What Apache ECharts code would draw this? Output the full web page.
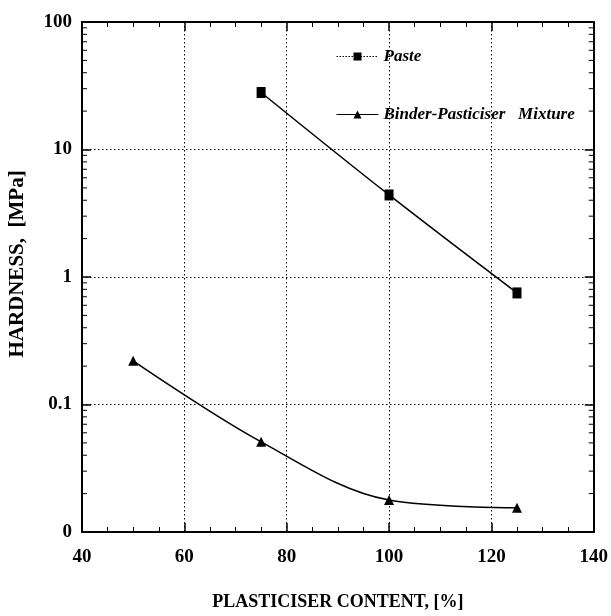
<!DOCTYPE html>
<html>
<head>
<meta charset="utf-8">
<script src="https://cdn.jsdelivr.net/npm/echarts@6/dist/echarts.min.js"></script>
<style>html,body{margin:0;padding:0;background:#fff;}#c{width:611px;height:616px;}</style>
</head>
<body>
<div id="c"></div>
<script>
// ---- data ----
var pasteX = [75, 100, 125];
var pasteY = [28, 4.4, 0.75];
var binderX = [50, 75, 100, 125];
var binderY = [0.22, 0.051, 0.0178, 0.0155];
var seriesNames = ['Paste', 'Binder-Pasticiser   Mixture'];
var xTicks = [40, 60, 80, 100, 120, 140];
var yTickValues = [0.01, 0.1, 1, 10, 100];
var yTickLabels = ['0', '0.1', '1', '10', '100'];
var yMinorTicks = [];
[0.01, 0.1, 1, 10].forEach(function (d) {
  for (var k = 2; k <= 9; k++) yMinorTicks.push(+(d * k).toPrecision(3));
});

var serif = '"Liberation Serif", "Times New Roman", serif';
var black = '#000';

function pairs(xs, ys) { return xs.map(function (x, i) { return [x, ys[i]]; }); }

var chart = echarts.init(document.getElementById('c'), null, {renderer: 'canvas'});
var xCommon = {
  type: 'value', min: xTicks[0], max: xTicks[xTicks.length - 1], interval: 20,
  axisLine: {show: true, onZero: false, lineStyle: {color: black, width: 2}},
  axisTick: {show: true, inside: true, length: 9, lineStyle: {color: black, width: 1.5}},
  minorTick: {show: true, splitNumber: 4, length: 5, lineStyle: {color: black, width: 1}}
};
var yCommon = {
  type: 'log', logBase: 10, min: yTickValues[0], max: yTickValues[yTickValues.length - 1],
  axisLine: {show: true, onZero: false, lineStyle: {color: black, width: 2}},
  axisTick: {show: true, inside: true, length: 9, lineStyle: {color: black, width: 1.5}}
};

chart.setOption({
  animation: false,
  backgroundColor: '#fff',
  grid: {left: 82, right: 16, top: 22, bottom: 78, containLabel: false},
  xAxis: [
    Object.assign({}, xCommon, {
      position: 'bottom',
      name: 'PLASTICISER CONTENT, [%]', nameLocation: 'middle', nameGap: 61,
      nameTextStyle: {fontFamily: serif, fontWeight: 'bold', fontSize: 18, color: black},
      axisLabel: {show: true, margin: 16, fontFamily: serif, fontWeight: 'bold', fontSize: 19, color: black},
      splitLine: {show: true, lineStyle: {color: black, type: [1.5, 2.5], width: 1}}
    }),
    Object.assign({}, xCommon, {
      position: 'top', axisLabel: {show: false}, splitLine: {show: false}
    })
  ],
  yAxis: [
    Object.assign({}, yCommon, {
      position: 'left',
      axisLabel: {show: true, margin: 10, fontFamily: serif, fontWeight: 'bold', fontSize: 19, color: black,
        formatter: function (v) {
          for (var i = 0; i < yTickValues.length; i++) {
            if (Math.abs(Math.log10(v) - Math.log10(yTickValues[i])) < 1e-6) return yTickLabels[i];
          }
          return '';
        }},
      splitLine: {show: true, lineStyle: {color: black, type: [1.5, 2.5], width: 1}}
    }),
    Object.assign({}, yCommon, {
      position: 'right', axisLabel: {show: false}, splitLine: {show: false}
    })
  ],
  graphic: [{
    type: 'text', x: 18, y: 264, rotation: Math.PI / 2,
    style: {text: 'HARDNESS,  [MPa]', fontFamily: serif, fontWeight: 'bold', fontSize: 21,
      fill: black, align: 'center', verticalAlign: 'middle'}
  }],
  legend: {
    orient: 'vertical', left: 336, top: 48, itemGap: 41, padding: 0,
    itemWidth: 42, itemHeight: 10,
    textStyle: {fontFamily: serif, fontWeight: 'bold', fontStyle: 'italic', fontSize: 17, color: black},
    data: [
      {name: seriesNames[0], lineStyle: {type: [1.5, 1.5], width: 1}},
      {name: seriesNames[1], lineStyle: {type: 'solid', width: 1}}
    ]
  },
  series: [
    {
      name: seriesNames[0], type: 'line', xAxisIndex: 0, yAxisIndex: 0,
      data: pairs(pasteX, pasteY), smooth: 0.35,
      symbol: 'rect', symbolSize: [9, 11],
      lineStyle: {color: black, width: 1.5}, itemStyle: {color: black}
    },
    {
      name: seriesNames[1], type: 'line', xAxisIndex: 0, yAxisIndex: 0,
      data: pairs(binderX, binderY), smooth: 0.35,
      symbol: 'triangle', symbolSize: 10,
      lineStyle: {color: black, width: 1.5}, itemStyle: {color: black}
    },
    {
      name: 'yMinor', type: 'custom', xAxisIndex: 0, yAxisIndex: 0, silent: true,
      data: yMinorTicks.map(function (v) { return [v]; }),
      clip: false,
      renderItem: function (params, api) {
        var v = api.value(0);
        var l = api.coord([xTicks[0], v]);
        var r = api.coord([xTicks[xTicks.length - 1], v]);
        var st = {stroke: black, lineWidth: 1};
        return {type: 'group', children: [
          {type: 'line', shape: {x1: l[0], y1: l[1], x2: l[0] + 5, y2: l[1]}, style: st},
          {type: 'line', shape: {x1: r[0], y1: r[1], x2: r[0] - 5, y2: r[1]}, style: st}
        ]};
      },
      encode: {y: 0}
    }
  ]
});
</script>
</body>
</html>
